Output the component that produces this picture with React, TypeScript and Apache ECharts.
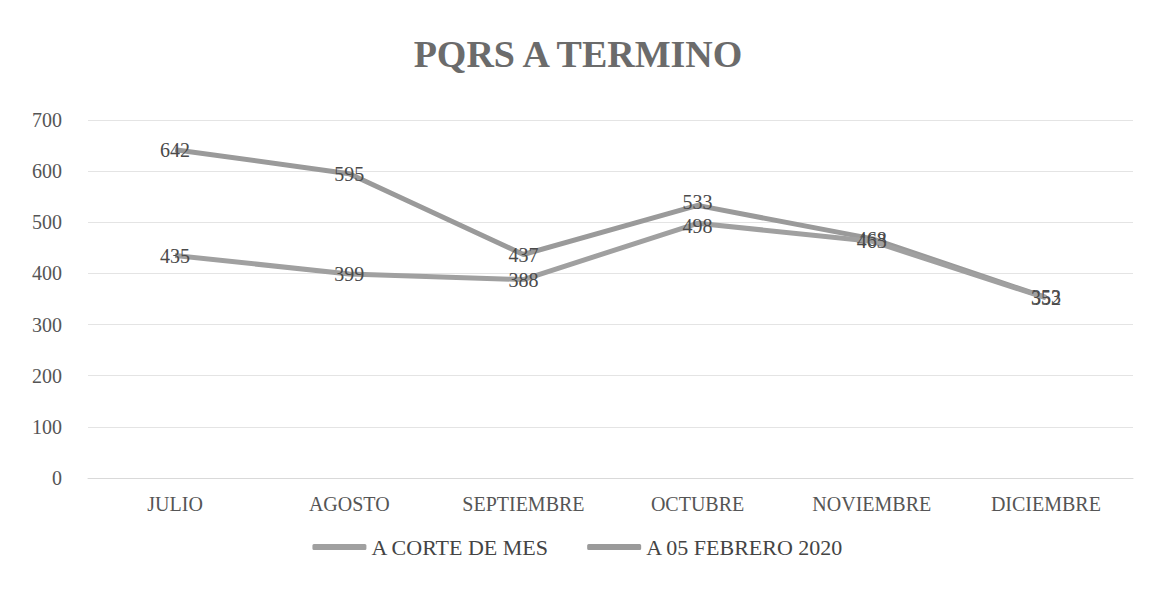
import React, { useEffect, useRef } from "react";
import * as echarts from "echarts";

const months = ["JULIO", "AGOSTO", "SEPTIEMBRE", "OCTUBRE", "NOVIEMBRE", "DICIEMBRE"];
const corteDeMes = [435, 399, 388, 498, 463, 352];
const febrero2020 = [642, 595, 437, 533, 468, 353];
const seriesNames = ["A CORTE DE MES", "A 05 FEBRERO 2020"];
const titleText = "PQRS A TERMINO";

const FONT = "Liberation Serif";

export default function App() {
  const ref = useRef<HTMLDivElement>(null);
  useEffect(() => {
    document.body.style.margin = "0";
    const chart = echarts.init(ref.current!, null, { renderer: "svg" });
    const label = {
      show: true,
      position: "inside" as const,
      fontFamily: FONT,
      fontSize: 20,
      color: "#4a4a4a",
    };
    const shifted = (arr: number[], idx: number, dy: number) =>
      arr.map((v, i) => (i === idx ? { value: v, label: { offset: [0, dy] } } : v));
    chart.setOption({
      animation: false,
      backgroundColor: "#ffffff",
      title: {
        text: titleText,
        left: "center",
        top: 30,
        textStyle: { fontFamily: FONT, fontSize: 38, fontWeight: "bold", color: "#6b6b6b" },
      },
      grid: { left: 88, right: 23, top: 120, bottom: 111 },
      xAxis: {
        type: "category",
        data: months,
        boundaryGap: true,
        axisLine: { show: true, lineStyle: { color: "#d9d9d9", width: 1 } },
        axisTick: { show: false },
        axisLabel: { fontFamily: FONT, fontSize: 20, color: "#555555", margin: 16 },
      },
      yAxis: {
        type: "value",
        min: 0,
        max: 700,
        interval: 100,
        axisLine: { show: false },
        axisTick: { show: false },
        splitLine: { lineStyle: { color: "#e4e4e4", width: 1 } },
        axisLabel: { fontFamily: FONT, fontSize: 20, color: "#555555", margin: 26 },
      },
      legend: {
        bottom: 26,
        left: "center",
        itemWidth: 54,
        itemHeight: 6,
        itemGap: 38,
        icon: "roundRect",
        textStyle: { fontFamily: FONT, fontSize: 22, color: "#444444" },
        data: seriesNames,
      },
      series: [
        {
          name: seriesNames[0],
          type: "line",
          data: shifted(corteDeMes, 3, 3),
          symbol: "circle",
          symbolSize: 1,
          showSymbol: true,
          lineStyle: { color: "#a0a0a0", width: 5 },
          itemStyle: { color: "#a0a0a0" },
          label,
          z: 3,
        },
        {
          name: seriesNames[1],
          type: "line",
          data: shifted(febrero2020, 3, -3),
          symbol: "circle",
          symbolSize: 1,
          showSymbol: true,
          lineStyle: { color: "#9a9a9a", width: 5 },
          itemStyle: { color: "#9a9a9a" },
          label,
          z: 2,
        },
      ],
    });
    return () => chart.dispose();
  }, []);
  return <div ref={ref} style={{ width: 1156, height: 589 }} />;
}
